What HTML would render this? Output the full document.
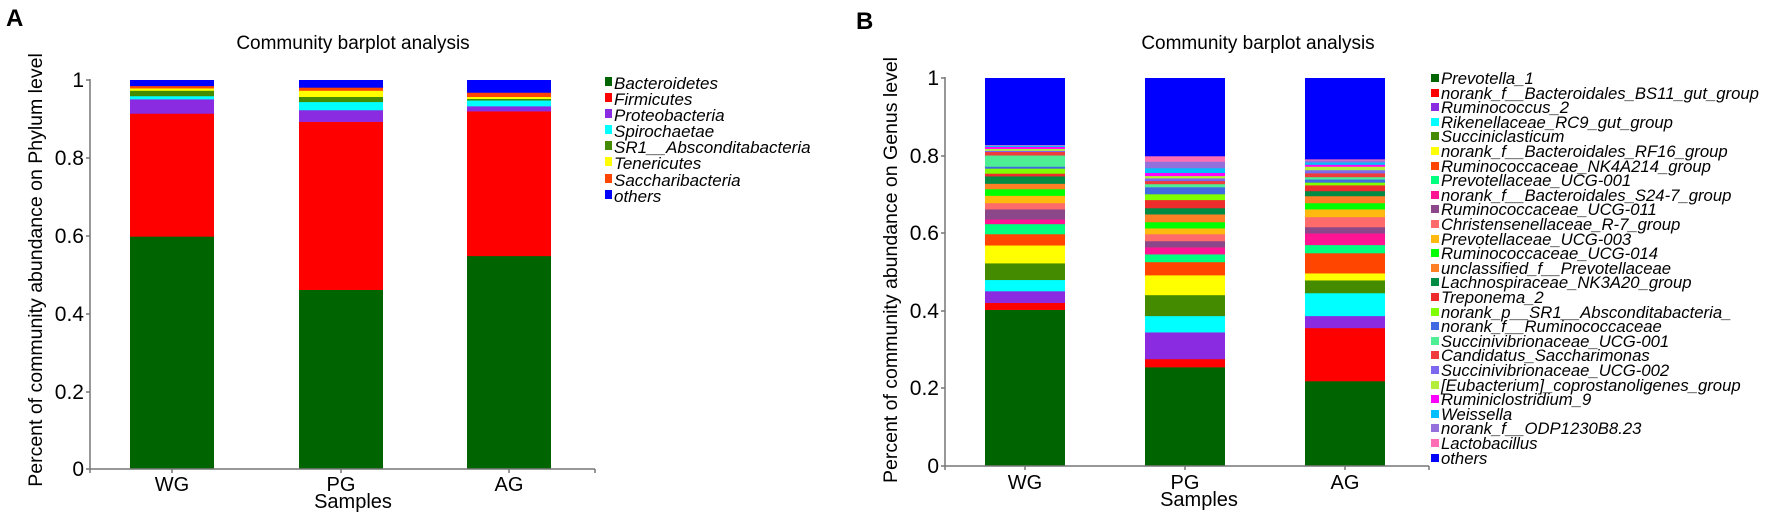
<!DOCTYPE html>
<html><head><meta charset="utf-8"><style>
body{margin:0;background:#fff}
svg{display:block;font-family:"Liberation Sans",Arial,sans-serif}
.it{font-style:italic}
</style></head><body>
<svg id="s" width="1772" height="512" viewBox="0 0 1772 512" xmlns="http://www.w3.org/2000/svg">
<rect width="1772" height="512" fill="#fff"/>
<g id="bars"></g>
<!-- Panel A -->
<text x="6" y="26" font-size="24" font-weight="bold">A</text>
<text x="353" y="49" font-size="19" text-anchor="middle">Community barplot analysis</text>
<text transform="translate(42,270) rotate(-90)" font-size="19.5" text-anchor="middle">Percent of community abundance on Phylum level</text>
<g stroke="#777" stroke-width="1.5" fill="none">
<path d="M90,79 V469 H595"/>
<path d="M86,80 H90 M86,158 H90 M86,236 H90 M86,314 H90 M86,392 H90 M86,469 H90"/>
<path d="M172,469 V473 M341,469 V473 M509,469 V473 M595,469 V473 M90,469 V473"/>
</g>
<g font-size="21" text-anchor="end">
<text x="84" y="87">1</text><text x="84" y="165">0.8</text><text x="84" y="243">0.6</text>
<text x="84" y="321">0.4</text><text x="84" y="399">0.2</text><text x="84" y="476">0</text>
</g>
<g font-size="20" text-anchor="middle">
<text x="172" y="491">WG</text><text x="341" y="491">PG</text><text x="509" y="491">AG</text>
<text x="353" y="508">Samples</text>
</g>
<g class="it" font-size="17">
<rect x="605" y="77" width="7" height="9" fill="#006400"/><text x="614" y="89">Bacteroidetes</text>
<rect x="605" y="93" width="7" height="9" fill="#FF0000"/><text x="614" y="105">Firmicutes</text>
<rect x="605" y="109" width="7" height="9" fill="#8A2BE2"/><text x="614" y="121">Proteobacteria</text>
<rect x="605" y="125" width="7" height="9" fill="#00FFFF"/><text x="614" y="137">Spirochaetae</text>
<rect x="605" y="141" width="7" height="9" fill="#458B00"/><text x="614" y="153">SR1__Absconditabacteria</text>
<rect x="605" y="157" width="7" height="9" fill="#FFFF00"/><text x="614" y="169">Tenericutes</text>
<rect x="605" y="174" width="7" height="9" fill="#FF4500"/><text x="614" y="186">Saccharibacteria</text>
<rect x="605" y="190" width="7" height="9" fill="#0000FF"/><text x="614" y="202">others</text>
</g>
<!-- Panel B -->
<text x="856" y="29" font-size="24" font-weight="bold">B</text>
<text x="1258" y="49" font-size="19" text-anchor="middle">Community barplot analysis</text>
<text transform="translate(897,270) rotate(-90)" font-size="19.5" text-anchor="middle">Percent of community abundance on Genus level</text>
<g stroke="#777" stroke-width="1.5" fill="none">
<path d="M945,77 V466 H1429"/>
<path d="M941,78 H945 M941,156 H945 M941,233 H945 M941,311 H945 M941,388 H945 M941,466 H945"/>
<path d="M1025,466 V470 M1185,466 V470 M1345,466 V470 M1429,466 V470 M945,466 V470"/>
</g>
<g font-size="21" text-anchor="end">
<text x="939" y="85">1</text><text x="939" y="163">0.8</text><text x="939" y="240">0.6</text>
<text x="939" y="318">0.4</text><text x="939" y="395">0.2</text><text x="939" y="473">0</text>
</g>
<g font-size="20" text-anchor="middle">
<text x="1025" y="489">WG</text><text x="1185" y="489">PG</text><text x="1345" y="489">AG</text>
<text x="1199" y="506">Samples</text>
</g>
<g class="it" font-size="16.7">
<rect x="1431" y="74" width="8" height="8" fill="#006400"/><text x="1441" y="84">Prevotella_1</text>
<rect x="1431" y="89" width="8" height="8" fill="#FF0000"/><text x="1441" y="99">norank_f__Bacteroidales_BS11_gut_group</text>
<rect x="1431" y="103" width="8" height="8" fill="#8A2BE2"/><text x="1441" y="113">Ruminococcus_2</text>
<rect x="1431" y="118" width="8" height="8" fill="#00FFFF"/><text x="1441" y="128">Rikenellaceae_RC9_gut_group</text>
<rect x="1431" y="132" width="8" height="8" fill="#458B00"/><text x="1441" y="142">Succiniclasticum</text>
<rect x="1431" y="147" width="8" height="8" fill="#FFFF00"/><text x="1441" y="157">norank_f__Bacteroidales_RF16_group</text>
<rect x="1431" y="162" width="8" height="8" fill="#FF4500"/><text x="1441" y="172">Ruminococcaceae_NK4A214_group</text>
<rect x="1431" y="176" width="8" height="8" fill="#00FF7F"/><text x="1441" y="186">Prevotellaceae_UCG-001</text>
<rect x="1431" y="191" width="8" height="8" fill="#FF1493"/><text x="1441" y="201">norank_f__Bacteroidales_S24-7_group</text>
<rect x="1431" y="205" width="8" height="8" fill="#8B4789"/><text x="1441" y="215">Ruminococcaceae_UCG-011</text>
<rect x="1431" y="220" width="8" height="8" fill="#FF6A6A"/><text x="1441" y="230">Christensenellaceae_R-7_group</text>
<rect x="1431" y="235" width="8" height="8" fill="#FFB90F"/><text x="1441" y="245">Prevotellaceae_UCG-003</text>
<rect x="1431" y="249" width="8" height="8" fill="#00FF00"/><text x="1441" y="259">Ruminococcaceae_UCG-014</text>
<rect x="1431" y="264" width="8" height="8" fill="#FF7F24"/><text x="1441" y="274">unclassified_f__Prevotellaceae</text>
<rect x="1431" y="278" width="8" height="8" fill="#008B45"/><text x="1441" y="288">Lachnospiraceae_NK3A20_group</text>
<rect x="1431" y="293" width="8" height="8" fill="#EE2C2C"/><text x="1441" y="303">Treponema_2</text>
<rect x="1431" y="308" width="8" height="8" fill="#7FFF00"/><text x="1441" y="318">norank_p__SR1__Absconditabacteria_</text>
<rect x="1431" y="322" width="8" height="8" fill="#4169E1"/><text x="1441" y="332">norank_f__Ruminococcaceae</text>
<rect x="1431" y="337" width="8" height="8" fill="#4EEE94"/><text x="1441" y="347">Succinivibrionaceae_UCG-001</text>
<rect x="1431" y="351" width="8" height="8" fill="#EE3B3B"/><text x="1441" y="361">Candidatus_Saccharimonas</text>
<rect x="1431" y="366" width="8" height="8" fill="#7B68EE"/><text x="1441" y="376">Succinivibrionaceae_UCG-002</text>
<rect x="1431" y="381" width="8" height="8" fill="#B3EE3A"/><text x="1441" y="391">[Eubacterium]_coprostanoligenes_group</text>
<rect x="1431" y="395" width="8" height="8" fill="#FF00FF"/><text x="1441" y="405">Ruminiclostridium_9</text>
<rect x="1431" y="410" width="8" height="8" fill="#00BFFF"/><text x="1441" y="420">Weissella</text>
<rect x="1431" y="424" width="8" height="8" fill="#9370DB"/><text x="1441" y="434">norank_f__ODP1230B8.23</text>
<rect x="1431" y="439" width="8" height="8" fill="#FF6EB4"/><text x="1441" y="449">Lactobacillus</text>
<rect x="1431" y="454" width="8" height="8" fill="#0000FF"/><text x="1441" y="464">others</text>
</g>
</svg>
<script>
(function(){
var g=document.getElementById('bars'),NS='http://www.w3.org/2000/svg';
function bar(x,w,y0,k,tops,cols){var prev=0;for(var i=0;i<tops.length;i++){var t=tops[i];var r=document.createElementNS(NS,'rect');
var ya=y0-t*k,yb=y0-prev*k;r.setAttribute('x',x);r.setAttribute('width',w);r.setAttribute('y',ya.toFixed(2));r.setAttribute('height',(yb-ya+0.3).toFixed(2));r.setAttribute('fill',cols[i]);g.appendChild(r);prev=t;}}
var ca=['#006400','#FF0000','#8A2BE2','#00FFFF','#458B00','#FFFF00','#FF4500','#0000FF'];
bar(130,84,469,389,[0.598,0.914,0.951,0.959,0.973,0.979,0.985,1],ca);
bar(299,84,469,389,[0.461,0.893,0.923,0.944,0.957,0.973,0.981,1],ca);
bar(467,84,469,389,[0.548,0.920,0.933,0.948,0.952,0.957,0.968,1],ca);
var cb=['#006400','#FF0000','#8A2BE2','#00FFFF','#458B00','#FFFF00','#FF4500','#00FF7F','#FF1493','#8B4789','#FF6A6A','#FFB90F','#00FF00','#FF7F24','#008B45','#EE2C2C','#7FFF00','#4169E1','#4EEE94','#EE3B3B','#7B68EE','#B3EE3A','#FF00FF','#00BFFF','#9370DB','#FF6EB4','#0000FF'];
bar(985,80,466,388,[0.403,0.421,0.451,0.480,0.523,0.569,0.598,0.624,0.636,0.662,0.678,0.697,0.714,0.728,0.747,0.754,0.767,0.772,0.801,0.810,0.813,0.818,0.823,0.826,0.827,0.828,1],cb);
bar(1145,80,466,388,[0.255,0.276,0.345,0.387,0.441,0.492,0.526,0.546,0.564,0.580,0.598,0.613,0.629,0.649,0.665,0.686,0.701,0.719,0.727,0.735,0.742,0.748,0.756,0.768,0.785,0.799,1],cb);
bar(1305,80,466,388,[0.219,0.356,0.387,0.446,0.479,0.497,0.549,0.570,0.600,0.616,0.642,0.662,0.678,0.696,0.709,0.724,0.731,0.739,0.745,0.755,0.763,0.772,0.777,0.783,0.788,0.791,1],cb);
})();
</script>
</body></html>
